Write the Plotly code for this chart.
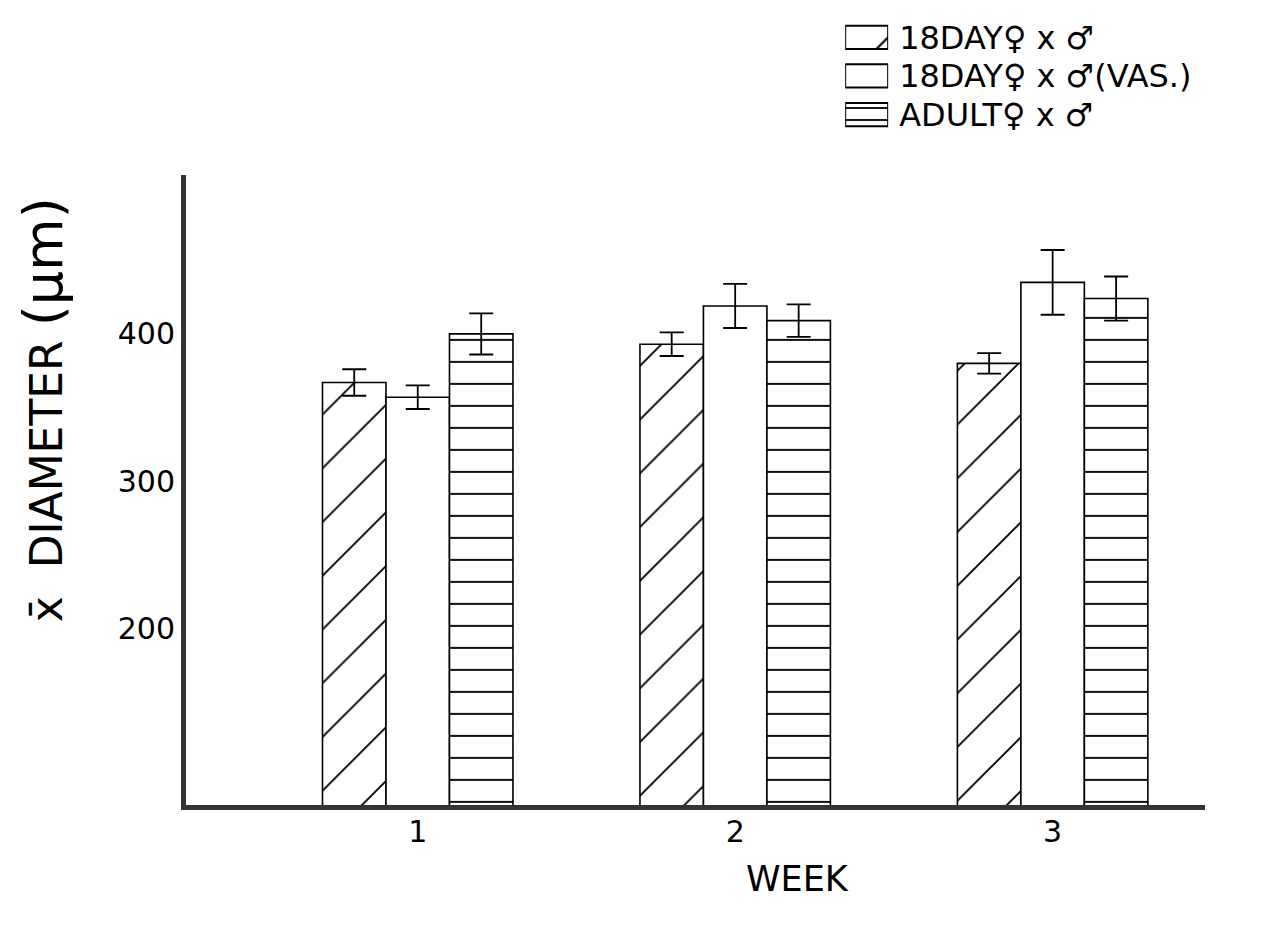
import plotly.graph_objects as go

weeks = [1, 2, 3]
week_labels = ["1", "2", "3"]
series_names = ["18DAY♀ x ♂", "18DAY♀ x ♂(VAS.)", "ADULT♀ x ♂"]
day18_mean = [367, 393, 380]
day18_err = [9, 8, 7]
day18vas_mean = [357, 419, 435]
day18vas_err = [8, 15, 22]
adult_mean = [400, 409, 424]
adult_err = [14, 11, 15]
y_ticks = [200, 300, 400]

font = "DejaVu Sans"
patterns = ["/", "", "-"]
pat_sizes = [38, 38, 22]
pat_solid = [0.05, 0.05, 0.085]
means = [day18_mean, day18vas_mean, adult_mean]
errs = [day18_err, day18vas_err, adult_err]

# page offset of the plot div (browser body margin)
OFF = 8
AX_LW = 5
L, R, T, B = 183 - OFF + AX_LW / 2, 1205 - OFF, 175 - OFF, 808 - OFF - AX_LW / 2
W, H = 1270, 941
plot_w = R - L
paper_h = B  # margin top = 0


def px(xpix):
    return (xpix - OFF - L) / plot_w


def py(ypix):
    return (paper_h - (ypix - OFF)) / paper_h


fig = go.Figure()
for name, m, e, p, s, so in zip(series_names, means, errs, patterns, pat_sizes, pat_solid):
    fig.add_trace(go.Bar(
        x=weeks, y=m, name=name, showlegend=False,
        marker=dict(color="white", line=dict(color="black", width=1.6),
                    pattern=dict(shape=p, fgcolor="black", bgcolor="white",
                                 fgopacity=1, size=s, solidity=so)),
        error_y=dict(type="data", array=e, visible=True, color="black",
                     thickness=1.8, width=12),
    ))

# legend key drawn as swatch bars on a small hidden axis
fig.add_trace(go.Bar(
    x=[1] * len(series_names), y=series_names, orientation="h",
    xaxis="x2", yaxis="y2", showlegend=False, hoverinfo="skip",
    marker=dict(color="white", line=dict(color="black", width=2),
                pattern=dict(shape=patterns, fgcolor="black", bgcolor="white",
                             fgopacity=1, size=[44, 44, 12], solidity=[0.05, 0.05, 0.15])),
))

fig.update_layout(
    width=W, height=H,
    paper_bgcolor="white", plot_bgcolor="white",
    margin=dict(l=L, r=W - R, t=0, b=H - B),
    barmode="group", bargap=0.4, bargroupgap=0,
    showlegend=False,
    font=dict(family=font, color="black"),
    xaxis=dict(range=[0.27, 3.48], tickvals=weeks, ticktext=week_labels,
               showgrid=False, zeroline=False, showline=True, linecolor="#333",
               linewidth=AX_LW, ticks="", tickfont=dict(size=30, family=font),
               ticklabelstandoff=-4, automargin=False),
    yaxis=dict(range=[80, 508], tickvals=y_ticks, showgrid=False, zeroline=False,
               showline=True, linecolor="#333", linewidth=AX_LW, ticks="",
               tickfont=dict(size=30, family=font), domain=[0, py(175)],
               automargin=False),
    xaxis2=dict(domain=[px(845), px(888)], range=[0, 1],
                anchor="y2", visible=False, fixedrange=True),
    yaxis2=dict(domain=[py(134), py(18)],
                anchor="x2", side="right", autorange="reversed",
                categoryorder="array", categoryarray=series_names,
                showgrid=False, zeroline=False, showline=False, ticks="",
                ticklabelstandoff=10,
                tickfont=dict(size=32, family=font), automargin=False,
                fixedrange=True),
)

fig.add_annotation(text="x̄  DIAMETER <span style='font-size:54px'>(μm)</span>",
                   textangle=-90, showarrow=False,
                   xref="paper", yref="paper", xanchor="center", yanchor="middle",
                   x=px(43), y=py(410),
                   font=dict(size=44, family=font, color="black"))
fig.add_annotation(text="WEEK", showarrow=False, xref="paper", yref="paper",
                   xanchor="center", yanchor="middle",
                   x=px(797), y=py(880),
                   font=dict(size=35, family=font, color="black"))

fig.write_html("out.html")
